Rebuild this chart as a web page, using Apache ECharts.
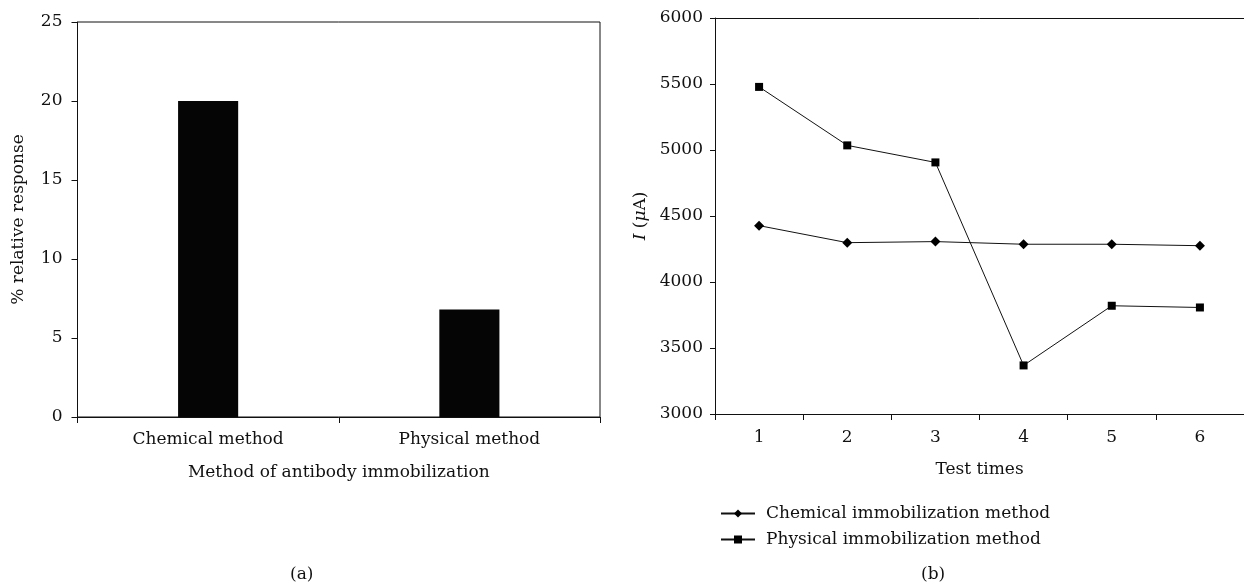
<!DOCTYPE html>
<html>
<head>
<meta charset="utf-8">
<script src="https://cdn.jsdelivr.net/npm/echarts@6/dist/echarts.min.js"></script>
<style>
  html, body { margin: 0; padding: 0; background: #fff; }
  #chart { width: 1244px; height: 588px; }
</style>
</head>
<body>
<div id="chart"></div>
<script>
// (a) bar chart
const methods = ['Chemical method', 'Physical method'];
const relResponse = [20, 6.8];

// (b) line chart
const testTimes = ['1', '2', '3', '4', '5', '6'];
const chemicalI = [4427, 4298, 4306, 4286, 4286, 4275];
const physicalI = [5478, 5035, 4906, 3368, 3820, 3807];

const FONT = 'DejaVu Serif';
const INK = '#111';
const FS = 17;

let myChart = echarts.init(document.getElementById('chart'));

const axisText = { color: INK, fontFamily: FONT, fontSize: FS };

let option = {
  animation: false,
  textStyle: { fontFamily: FONT, color: INK },
  grid: [
    { left: 77.5, top: 22, right: 644, bottom: 171, show: true, borderColor: INK, borderWidth: 1 },
    { left: 715, top: 18, right: -1, bottom: 174 }
  ],
  legend: {
    data: ['Chemical immobilization method', 'Physical immobilization method'],
    orient: 'vertical',
    left: 715,
    top: 500,
    itemWidth: 34,
    itemHeight: 10,
    itemGap: 9,
    textStyle: { color: INK, fontFamily: FONT, fontSize: FS, padding: [0, 0, 0, 6] }
  },
  xAxis: [
    {
      type: 'category',
      gridIndex: 0,
      data: methods,
      name: 'Method of antibody immobilization',
      nameLocation: 'middle',
      nameGap: 47,
      nameTextStyle: axisText,
      axisLine: { lineStyle: { color: INK } },
      axisTick: { show: true, length: 6, inside: false, lineStyle: { color: INK } },
      axisLabel: Object.assign({ margin: 14 }, axisText)
    },
    {
      type: 'category',
      gridIndex: 1,
      data: testTimes,
      name: 'Test times',
      nameLocation: 'middle',
      nameGap: 47,
      nameTextStyle: axisText,
      axisLine: { lineStyle: { color: INK } },
      axisTick: { show: true, length: 6, lineStyle: { color: INK } },
      axisLabel: Object.assign({ margin: 15 }, axisText)
    },
    {
      // top frame line of (b)
      type: 'category',
      gridIndex: 1,
      position: 'top',
      data: testTimes,
      axisLine: { lineStyle: { color: INK } },
      axisTick: { show: false },
      axisLabel: { show: false }
    }
  ],
  yAxis: [
    {
      type: 'value',
      gridIndex: 0,
      min: 0,
      max: 25,
      interval: 5,
      name: '% relative response',
      nameLocation: 'middle',
      nameGap: 50,
      nameTextStyle: axisText,
      axisLine: { show: true, lineStyle: { color: INK } },
      axisTick: { show: true, length: 6, lineStyle: { color: INK } },
      axisLabel: Object.assign({ margin: 15 }, axisText),
      splitLine: { show: false }
    },
    {
      type: 'value',
      gridIndex: 1,
      min: 3000,
      max: 6000,
      interval: 500,
      name: '{i|I} ({i|\u03bc}A)',
      nameLocation: 'middle',
      nameGap: 66,
      nameTextStyle: Object.assign({
        rich: { i: { fontStyle: 'italic', fontFamily: FONT, fontSize: FS, color: INK } }
      }, axisText),
      axisLine: { show: true, lineStyle: { color: INK } },
      axisTick: { show: true, length: 5, lineStyle: { color: INK } },
      axisLabel: Object.assign({ margin: 12, formatter: function (v) { return String(v); } }, axisText),
      splitLine: { show: false }
    }
  ],
  series: [
    {
      name: '% relative response',
      type: 'bar',
      xAxisIndex: 0,
      yAxisIndex: 0,
      barWidth: '23%',
      data: relResponse,
      itemStyle: { color: '#050505' }
    },
    {
      name: 'Chemical immobilization method',
      type: 'line',
      xAxisIndex: 1,
      yAxisIndex: 1,
      data: chemicalI,
      symbol: 'diamond',
      symbolSize: 10,
      lineStyle: { color: INK, width: 1 },
      itemStyle: { color: '#000' }
    },
    {
      name: 'Physical immobilization method',
      type: 'line',
      xAxisIndex: 1,
      yAxisIndex: 1,
      data: physicalI,
      symbol: 'rect',
      symbolSize: 8,
      lineStyle: { color: INK, width: 1 },
      itemStyle: { color: '#000' }
    }
  ],
  graphic: [
    { type: 'text', left: 290, top: 566, style: { text: '(a)', fontFamily: FONT, fontSize: FS, fill: INK } },
    { type: 'text', left: 921, top: 566, style: { text: '(b)', fontFamily: FONT, fontSize: FS, fill: INK } }
  ]
};
myChart.setOption(option);
</script>
</body>
</html>
